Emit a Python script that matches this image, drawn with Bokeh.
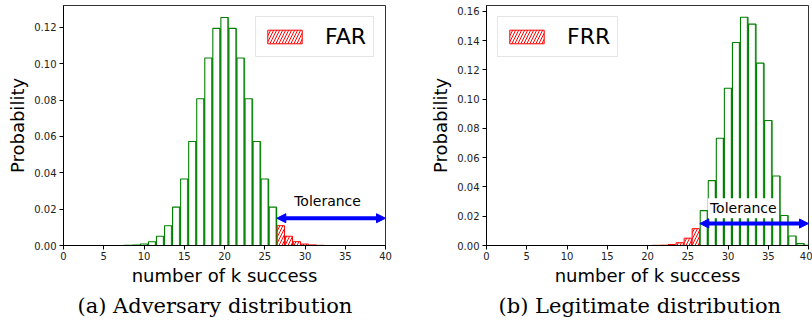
from bokeh.plotting import figure
from bokeh.layouts import row
from bokeh.models import (Range1d, FixedTicker, NumeralTickFormatter, Arrow, NormalHead,
                          Label, ColumnDataSource, Legend, LegendItem)
from bokeh.embed import file_html
from bokeh.resources import INLINE

# ---------------- data ----------------
k_values = list(range(41))
adversary_prob = [0.0, 0.0, 0.0, 0.0, 0.0, 0.0, 0.0, 0.0, 0.0001, 0.0003,
                  0.0008, 0.0021, 0.0051, 0.0109, 0.0211, 0.0366, 0.0572, 0.0807, 0.1031, 0.1194,
                  0.1254, 0.1194, 0.1031, 0.0807, 0.0572, 0.0366, 0.0211, 0.0109, 0.0051, 0.0021,
                  0.0008, 0.0003, 0.0001, 0.0, 0.0, 0.0, 0.0, 0.0, 0.0, 0.0, 0.0]
legitimate_prob = [0.0, 0.0, 0.0, 0.0, 0.0, 0.0, 0.0, 0.0, 0.0, 0.0,
                   0.0, 0.0, 0.0, 0.0, 0.0, 0.0, 0.0, 0.0, 0.0, 0.0,
                   0.0, 0.0001, 0.0002, 0.0007, 0.0019, 0.0050, 0.0115, 0.0238, 0.0443, 0.0733,
                   0.1075, 0.1387, 0.1560, 0.1513, 0.1246, 0.0854, 0.0475, 0.0205, 0.0065, 0.0013,
                   0.0001]
threshold = 26.5          # tolerance boundary (k > 26 accepted)
tolerance_end = 40
tolerance_y = 0.015
x_ticks = [0, 5, 10, 15, 20, 25, 30, 35, 40]
adv_y_ticks = [0.0, 0.02, 0.04, 0.06, 0.08, 0.10, 0.12]
leg_y_ticks = [0.0, 0.02, 0.04, 0.06, 0.08, 0.10, 0.12, 0.14, 0.16]
adv_y_max = 0.132
leg_y_max = 0.164
captions = ["(a) Adversary distribution", "(b) Legitimate distribution"]
legend_labels = ["FAR", "FRR"]
tol_text_pos = [(32.8, 0.0247), (31.9, 0.0255)]

HALF = 0.45
GREEN = "#008000"
LIGHT_GREEN = "#7cc07c"
RED = "#ff0000"


def panel(probs, y_ticks, y_max, caption, leg_label, fail_above, legend_loc,
          tol_pos, width, mb_left, mb_right, cap_offset):
    p = figure(width=width, height=321, output_backend="svg", toolbar_location=None,
               x_range=Range1d(0, 40), y_range=Range1d(0, y_max),
               min_border_left=mb_left, min_border_right=mb_right,
               min_border_top=5, min_border_bottom=76,
               title=caption, title_location="below")
    p.title.text_font = "DejaVu Serif"
    p.title.text_font_size = "21px"
    p.title.text_font_style = "normal"
    p.title.text_color = "black"
    p.title.align = "left"
    p.title.offset = cap_offset
    p.title.standoff = 7
    p.grid.visible = False
    p.outline_line_color = "black"
    p.outline_line_alpha = 0.8
    p.background_fill_color = "white"

    ok_x, ok_y, bad_x, bad_y = [], [], [], []
    for kk, pr in zip(k_values, probs):
        fail = (kk > threshold) if fail_above else (kk < threshold)
        if fail:
            bad_x.append(kk); bad_y.append(pr)
        else:
            ok_x.append(kk); ok_y.append(pr)
    ok = ColumnDataSource(dict(l=[x - HALF for x in ok_x], r=[x + HALF for x in ok_x],
                               t=ok_y, b=[0] * len(ok_x)))
    bad = ColumnDataSource(dict(l=[x - HALF for x in bad_x], r=[x + HALF for x in bad_x],
                                t=bad_y, b=[0] * len(bad_x)))
    p.segment(x0="r", x1="r", y0="b", y1="t", source=ok, line_color=LIGHT_GREEN, line_width=2)
    p.quad(left="l", right="r", top="t", bottom="b", source=ok, fill_color="white",
           fill_alpha=0, line_color=GREEN, line_width=1.1)
    red = p.quad(left="l", right="r", top="t", bottom="b", source=bad, fill_color="white",
                 line_color=RED, line_width=1, hatch_pattern="/", hatch_color=RED,
                 hatch_scale=6, hatch_weight=1)

    arrow = Arrow(x_start=threshold, y_start=tolerance_y, x_end=tolerance_end, y_end=tolerance_y,
                  line_color="blue", line_width=4,
                  start=NormalHead(size=9, fill_color="blue", line_color="blue"),
                  end=NormalHead(size=9, fill_color="blue", line_color="blue"))
    p.add_layout(arrow)
    p.add_layout(Label(x=tol_pos[0], y=tol_pos[1], text="Tolerance", text_align="center",
                       text_baseline="middle", text_font="DejaVu Sans", text_font_size="14px",
                       text_color="black", background_fill_color="white", padding=2))

    legend = Legend(items=[LegendItem(label=leg_label, renderers=[red])], location=legend_loc,
                    label_text_font="DejaVu Sans", label_text_font_size="22px",
                    label_text_color="black",
                    glyph_width=43, glyph_height=17, label_standoff=19, padding=7,
                    margin=11, border_line_color="#cccccc", border_line_width=1,
                    background_fill_alpha=0.8)
    p.add_layout(legend)

    for ax in (p.xaxis[0], p.yaxis[0]):
        ax.major_label_text_font = "DejaVu Sans"
        ax.major_label_text_font_size = "10px"
        ax.major_label_text_color = "#222222"
        ax.axis_label_text_font = "DejaVu Sans"
        ax.axis_label_text_font_size = "18px"
        ax.axis_label_text_font_style = "normal"
        ax.axis_label_text_color = "black"
        ax.major_tick_in = 0
        ax.major_tick_out = 4
        ax.minor_tick_line_color = None
        ax.axis_line_color = "black"
    p.xaxis.ticker = FixedTicker(ticks=x_ticks)
    p.yaxis.ticker = FixedTicker(ticks=y_ticks)
    p.yaxis.formatter = NumeralTickFormatter(format="0.00")
    p.xaxis.axis_label = "number of k success"
    p.yaxis.axis_label = "Probability"
    p.xaxis.major_label_standoff = 2
    p.yaxis.major_label_standoff = 3
    p.xaxis.axis_label_standoff = 2
    p.yaxis.axis_label_standoff = 3
    return p


p1 = panel(adversary_prob, adv_y_ticks, adv_y_max, captions[0], legend_labels[0], True,
           "top_right", tol_text_pos[0], 404, 63, 19, 14)
p2 = panel(legitimate_prob, leg_y_ticks, leg_y_max, captions[1], legend_labels[1], False,
           "top_left", tol_text_pos[1], 408, 82, 4, 12)

layout = row(p1, p2)
open("out.html", "w").write(file_html(layout, INLINE))
